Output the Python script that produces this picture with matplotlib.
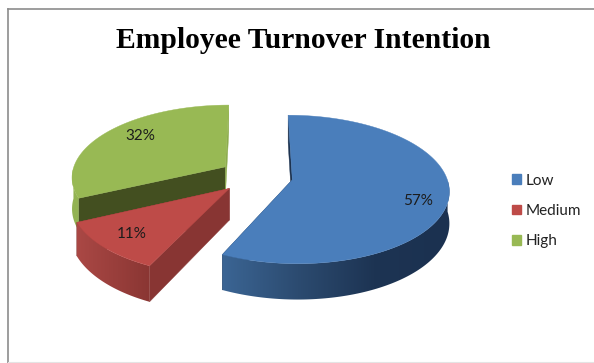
import numpy as np
import matplotlib
matplotlib.use('Agg')
import matplotlib.pyplot as plt
from matplotlib.colors import LinearSegmentedColormap
from matplotlib.patches import Patch, Polygon

categories = ['Low', 'Medium', 'High']
values = [57, 11, 32]
colors = ['#4a7ebb', '#be4b48', '#98b954']
label_pos = [(418, 201), (132, 234), (140, 136)]

# shading of the outer wall, left to right on screen
wall_shades = [['#3b6594', '#2c4b70', '#1d3453', '#1b3150'],
               ['#aa4845', '#8a3633'],
               ['#93b353', '#93b353']]
# colour of the two flat cut faces of each slice (start edge, end edge)
cut_colors = [('#1d3350', '#1d3350'), ('#883533', '#883533'), ('#434f20', '#8dac4e')]

# perspective pie: centre, radii, tilt strength, explosion, wall height
X0, Y0 = 256, 176
RX, RY = 154, 72
PERSP = 0.129
EXPLODE = 0.24
DEPTH = 31


def project(x, y, z=0.0):
    s = 1.0 / (1.0 + PERSP * y)
    return X0 + RX * x * s, Y0 - RY * y * s + DEPTH * z * s


def slice_points(start, end, n):
    ang = np.radians(np.linspace(start, end, n))
    mid = np.radians((start + end) / 2)
    ox, oy = EXPLODE * np.sin(mid), EXPLODE * np.cos(mid)
    return ox, oy, ox + np.sin(ang), oy + np.cos(ang)


def draw_slice(ax, start, end, color, shades, cuts):
    n = max(int(end - start), 8)
    ox, oy, xs, ys = slice_points(start, end, n)

    # flat faces of the cut
    for i, c in zip((0, n - 1), cuts):
        quad = [project(ox, oy), project(xs[i], ys[i]),
                project(xs[i], ys[i], 1), project(ox, oy, 1)]
        ax.add_patch(Polygon(quad, closed=True, fc=c, ec=c, lw=0.3))

    # outer wall: only the near half of the rim, as a horizontal gradient
    ang = np.linspace(start, end, n)
    near = (ang >= 90) & (ang <= 270)
    rim = [project(x, y) for x, y in zip(xs[near], ys[near])]
    rim += [project(x, y, 1) for x, y in zip(xs[near][::-1], ys[near][::-1])]
    wall = Polygon(rim, closed=True, fc='none', ec='none', transform=ax.transData)
    ax.add_patch(wall)
    px = [p[0] for p in rim]
    py = [p[1] for p in rim]
    cmap = LinearSegmentedColormap.from_list('wall', shades)
    img = ax.imshow(np.linspace(0, 1, 256).reshape(1, -1), cmap=cmap, aspect='auto', zorder=1,
                    extent=(min(px), max(px), max(py), min(py)), interpolation='bilinear')
    img.set_clip_path(wall)

    top = [project(ox, oy)] + [project(x, y) for x, y in zip(xs, ys)]
    ax.add_patch(Polygon(top, closed=True, fc=color, ec=color, lw=0.3))


fig = plt.figure(figsize=(5.94, 3.63), dpi=100)
ax = fig.add_axes([0, 0, 1, 1])

# chart frame
ax.plot([8, 8], [363, 8.5], color='#8c8c8c', lw=1.2)
ax.plot([8, 594], [8.5, 8.5], color='#8c8c8c', lw=1.2)
ax.plot([8, 594], [362, 362], color='#e4e4e4', lw=0.8)

fractions = np.array(values) / sum(values)
edges = np.concatenate([[0], np.cumsum(fractions)]) * 360

# back slice first so the nearer ones sit on top
for i in (2, 1, 0):
    draw_slice(ax, edges[i], edges[i + 1], colors[i], wall_shades[i], cut_colors[i])

ax.set_xlim(0, 594)
ax.set_ylim(363, 0)
ax.axis('off')

for val, (lx, ly) in zip(values, label_pos):
    ax.text(lx, ly, f'{val}%', ha='center', va='center', fontsize=11,
            family='Lato', color='#1c1c1c')

ax.text(303, 41, 'Employee Turnover Intention', ha='center', va='center',
        fontsize=21.3, fontweight='bold', family='Liberation Serif', color='black')

handles = [Patch(fc=c, ec=c) for c in colors]
ax.legend(handles, categories, loc='center left', bbox_to_anchor=(512 / 594, 1 - 211 / 363),
          frameon=False, prop={'family': 'Lato', 'size': 11}, labelcolor='#222222',
          handlelength=0.6, handleheight=0.6, handletextpad=0.3,
          labelspacing=1.07, borderpad=0, borderaxespad=0)

fig.savefig('out.png', dpi=100)
